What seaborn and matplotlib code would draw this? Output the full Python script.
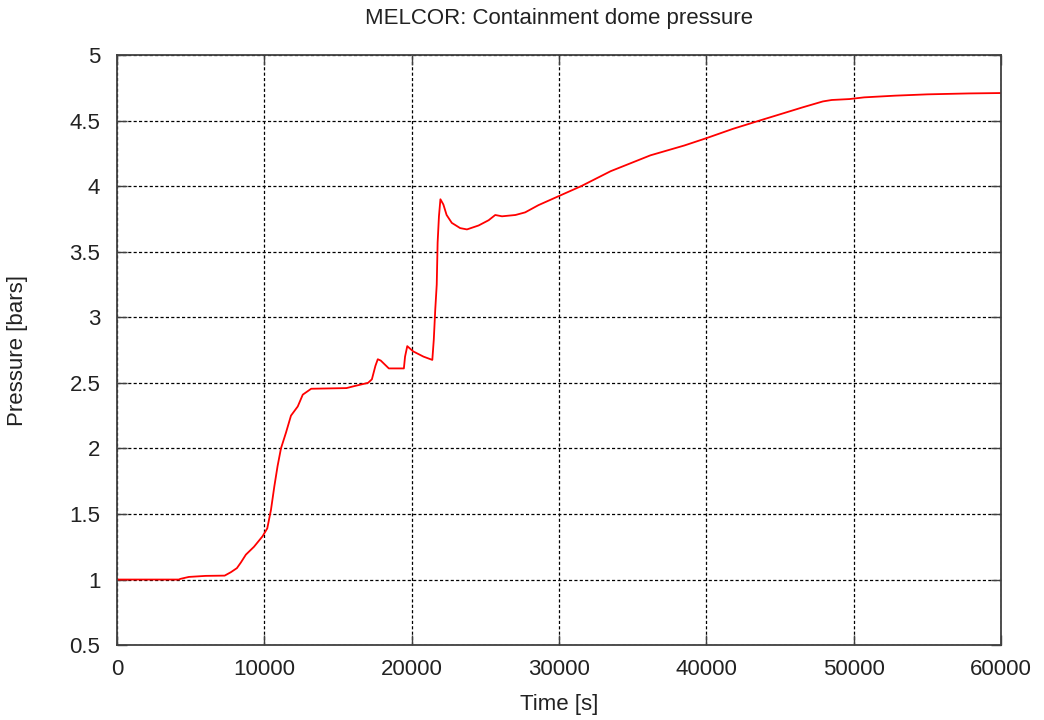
import matplotlib
matplotlib.use("Agg")
import matplotlib.pyplot as plt
import seaborn as sns
import pandas as pd

# Containment dome pressure history (MELCOR run)
time_s = [0, 4200, 4300, 4880, 6020, 7310, 7730, 8140, 8410, 8750, 9300,
          9880, 10200, 10450, 10680, 10900, 11130, 11470, 11810, 12270,
          12610, 13180, 15570, 16100, 17040, 17300, 17540, 17700, 17900,
          18450, 19470, 19550, 19700, 20100, 20800, 21400, 21500, 21600,
          21700, 21760, 21850, 21950, 22150, 22370, 22720, 23290, 23750,
          24540, 25220, 25670, 26130, 27040, 27700, 28600, 30100, 31500,
          33500, 36200, 38500, 40000, 41800, 43600, 45200, 46500, 47900,
          48500, 49700, 50700, 52800, 55000, 57800, 60000]
pressure_bar = [1.0, 1.0, 1.005, 1.02, 1.028, 1.03, 1.056, 1.087, 1.13, 1.19,
                1.25, 1.33, 1.39, 1.53, 1.71, 1.865, 2.0, 2.12, 2.25, 2.32,
                2.41, 2.455, 2.46, 2.475, 2.50, 2.527, 2.63, 2.68, 2.67,
                2.61, 2.61, 2.70, 2.78, 2.74, 2.70, 2.675, 2.83, 3.06,
                3.25, 3.57, 3.77, 3.90, 3.86, 3.78, 3.72, 3.68, 3.67,
                3.70, 3.74, 3.78, 3.77, 3.78, 3.80, 3.855, 3.93, 4.0,
                4.114, 4.235, 4.31, 4.366, 4.437, 4.5, 4.555, 4.60, 4.646,
                4.657, 4.664, 4.677, 4.69, 4.70, 4.707, 4.71]

x_ticks = [0, 10000, 20000, 30000, 40000, 50000, 60000]
y_ticks = [0.5, 1, 1.5, 2, 2.5, 3, 3.5, 4, 4.5, 5]
y_tick_labels = ["0.5", "1", "1.5", "2", "2.5", "3", "3.5", "4", "4.5", "5"]

df = pd.DataFrame({"Time [s]": time_s, "Pressure [bars]": pressure_bar})

sns.set_style("white")
plt.rcParams["font.family"] = ["Liberation Sans", "DejaVu Sans"]

fig = plt.figure(figsize=(10.44, 7.2), dpi=100)
ax = fig.add_axes([0.112, 0.104, 0.847, 0.8196])

sns.lineplot(data=df, x="Time [s]", y="Pressure [bars]", ax=ax,
             color="#ff0000", linewidth=1.3, estimator=None, sort=False)

ax.set_xlim(0, 60000)
ax.set_ylim(0.5, 5)
ax.set_xticks(x_ticks)
ax.set_xticklabels([str(v) for v in x_ticks])
ax.set_yticks(y_ticks)
ax.set_yticklabels(y_tick_labels)

ax.grid(True, color="black", linestyle=(0, (2.5, 1.8)), linewidth=0.9)
ax.set_axisbelow(True)

for side in ["left", "right", "top", "bottom"]:
    ax.spines[side].set_visible(True)
    ax.spines[side].set_color("#404040")
    ax.spines[side].set_linewidth(1.3)

ax.tick_params(axis="both", which="major", direction="in", length=7,
               width=1.0, color="#404040", labelsize=16, labelcolor="#222222",
               top=True, right=True, bottom=True, left=True)
ax.tick_params(axis="x", pad=10)
ax.tick_params(axis="y", pad=12)

ax.set_xlabel("Time [s]", fontsize=16, color="#222222", labelpad=10)
ax.set_ylabel("Pressure [bars]", fontsize=16, color="#222222", labelpad=30)
ax.set_title("MELCOR: Containment dome pressure", fontsize=16,
             color="#222222", pad=22)

fig.savefig("out.png", dpi=100, facecolor="white")
